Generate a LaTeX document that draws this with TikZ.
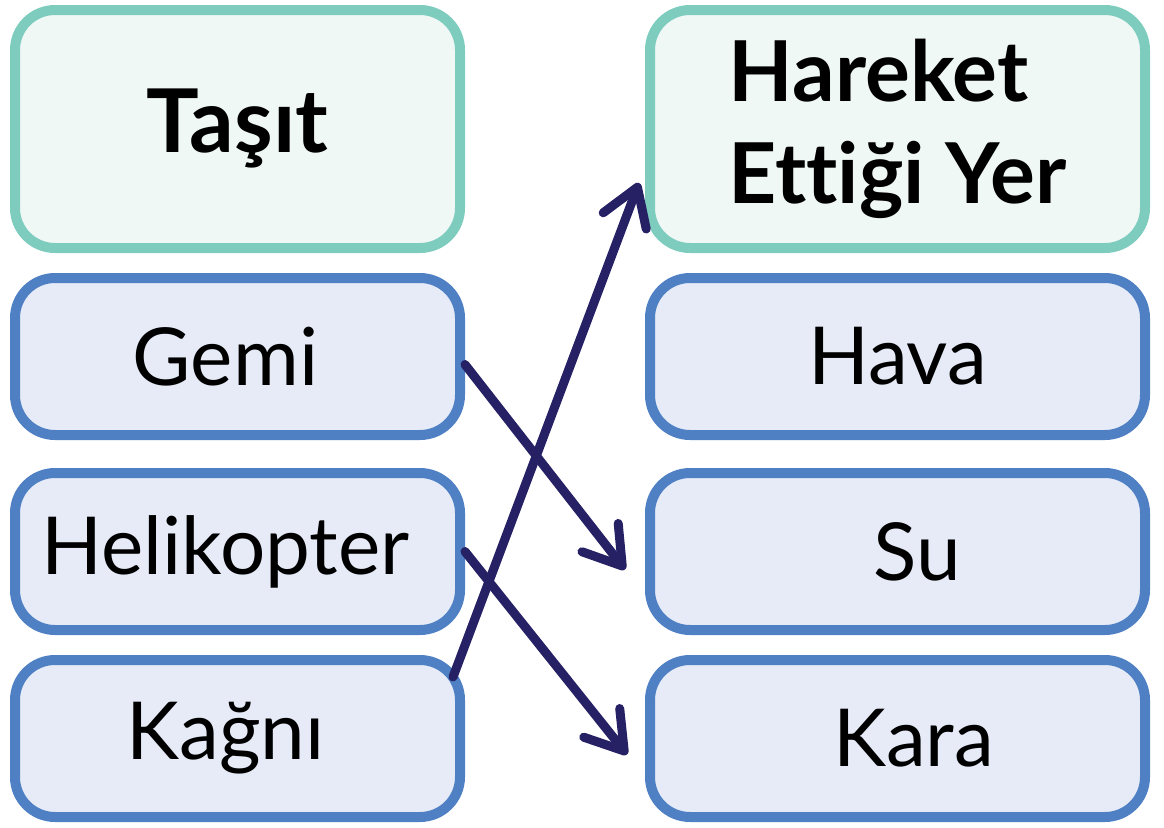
\documentclass[tikz,border=0pt]{standalone}
\usepackage{fontspec}
\setmainfont[Ligatures=NoCommon]{Lato}
\usepackage{tikz}
\usetikzlibrary{positioning,arrows.meta}

\definecolor{headline}{RGB}{125,204,190}
\definecolor{headfill}{RGB}{240,248,246}
\definecolor{boxline}{RGB}{80,128,196}
\definecolor{boxfill}{RGB}{230,235,247}
\definecolor{arrowblue}{RGB}{38,33,100}

\begin{document}
\begin{tikzpicture}[
    x=0.5pt, y=-0.5pt,
    node distance=10pt,
    head/.style={rectangle, rounded corners=20pt, draw=headline, fill=headfill, line width=5pt, minimum height=119pt, text centered},
    item/.style={rectangle, rounded corners=20pt, draw=boxline, fill=boxfill, line width=5pt, minimum height=78.5pt, font=\fontsize{40}{48}\selectfont},
    arrow/.style={-{Straight Barb[length=18pt,width=23pt,line cap=round,line join=round]}, line width=4.5pt, draw=arrowblue, line cap=round}
]
    \useasboundingbox (0,0) rectangle (1164,827);

    % left column
    \node[head, minimum width=222.5pt, font=\fontsize{44}{51}\selectfont\bfseries] (tasit) at (237.5,129) {Taşıt};
    \node[item, minimum width=222.5pt, below=10pt of tasit] (gemi) {Gemi\hspace*{12pt}};
    \node[item, minimum width=222.5pt, below=14pt of gemi] (heli) {Helikopter\hspace*{12pt}};
    \node[item, minimum width=222.5pt, below=10pt of heli] (kagni) {Kağnı\hspace*{12pt}};

    % right column
    \node[head, minimum width=247.5pt, align=left, font=\fontsize{42}{51}\selectfont\bfseries] (yer) at (897.5,129) {Hareket\\Ettiği Yer};
    \node[item, minimum width=247.5pt, below=10pt of yer] (hava) {Hava};
    \node[item, minimum width=247.5pt, below=14pt of hava] (su) {\hspace*{20pt}Su};
    \node[item, minimum width=247.5pt, below=10pt of su] (kara) {\hspace*{16pt}Kara};

    \draw[arrow] ([yshift=-4pt]gemi.east) -- ([xshift=-10pt,yshift=-9pt]su.west);
    \draw[arrow] (heli.east) -- ([xshift=-9pt,yshift=-8pt]kara.west);
    \draw[arrow] ([xshift=-6pt,yshift=-11pt]kagni.north east) -- ([xshift=-3pt,yshift=-27pt]yer.west);
\end{tikzpicture}
\end{document}
